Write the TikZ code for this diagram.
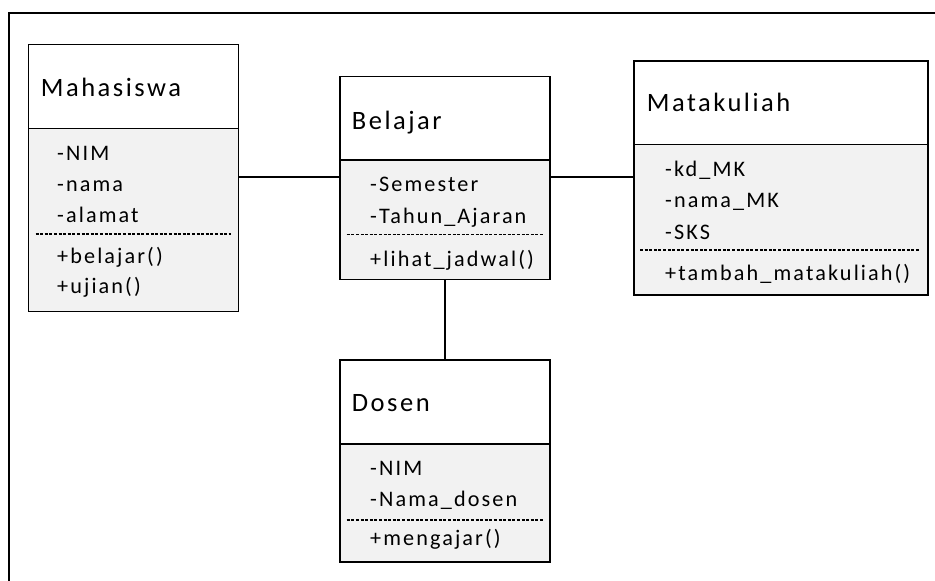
\documentclass[tikz,border=0pt]{standalone}
\usepackage{fontspec}
\setmainfont{Carlito}[LetterSpace=9.5]
\definecolor{bodyfill}{RGB}{242,242,242}
\tikzset{
  hdr/.style={draw=black, line width=1.3pt, fill=white, inner sep=0pt, anchor=north west},
  bdy/.style={draw=black, line width=1.3pt, fill=bodyfill, inner sep=0pt, anchor=north west},
  ttl/.style={anchor=base west, inner sep=0pt, font=\fontsize{26.5}{30}\selectfont},
  attr/.style={anchor=base west, inner sep=0pt, font=\fontsize{22.2}{26}\selectfont},
  sep/.style={line width=1.1pt, dash pattern=on 3pt off 1.6pt},
  link/.style={line width=1.3pt}
}
\begin{document}
\begin{tikzpicture}[x=1pt,y=-1pt]
\useasboundingbox (0,0) rectangle (935,581);
\draw[line width=1.3pt] (9,600) -- (9,13) -- (950,13);

% Mahasiswa
\node[hdr, minimum width=210pt, minimum height=84pt] (mhsH) at (28,43.7) {};
\node[bdy, minimum width=210pt, minimum height=183.3pt] (mhsB) at (28,127.7) {};
\node[ttl] (mhsT) at (40.7,96.7) {Mahasiswa};
\node[attr] (mhs1) at (57,160) {-NIM};
\node[attr] (mhs2) at (57,191.5) {-nama};
\node[attr] (mhs3) at (57,222.5) {-alamat};
\node[attr] (mhs4) at (57,263) {+belajar()};
\node[attr] (mhs5) at (57,293) {+ujian()};
\coordinate (mhsDl) at (35.5,234);
\coordinate (mhsDr) at (231,234);
\draw[sep] (mhsDl) -- (mhsDr);

% Belajar
\node[hdr, minimum width=210pt, minimum height=83.6pt] (blH) at (339.3,75.7) {};
\node[bdy, minimum width=210pt, minimum height=119.4pt] (blB) at (339.3,159.3) {};
\node[ttl] (blT) at (351.7,129) {Belajar};
\node[attr] (bl1) at (370,191.7) {-Semester};
\node[attr] (bl2) at (370,223.3) {-Tahun\_Ajaran};
\node[attr] (bl3) at (370,266) {+lihat\_jadwal()};
\coordinate (blDl) at (346.7,234.7);
\coordinate (blDr) at (542.7,234.7);
\draw[sep] (blDl) -- (blDr);

% Matakuliah
\node[hdr, minimum width=294pt, minimum height=83.7pt] (mkH) at (633.3,60.3) {};
\node[bdy, minimum width=294pt, minimum height=150.3pt] (mkB) at (633.3,144) {};
\node[ttl] (mkT) at (646.7,111.7) {Matakuliah};
\node[attr] (mk1) at (665,176.7) {-kd\_MK};
\node[attr] (mk2) at (665,207.5) {-nama\_MK};
\node[attr] (mk3) at (665,239) {-SKS};
\node[attr] (mk4) at (665,280) {+tambah\_matakuliah()};
\coordinate (mkDl) at (640,250);
\coordinate (mkDr) at (920,250);
\draw[sep] (mkDl) -- (mkDr);

% Dosen
\node[hdr, minimum width=210pt, minimum height=84pt] (dsH) at (339.3,359.3) {};
\node[bdy, minimum width=210pt, minimum height=118pt] (dsB) at (339.3,443.3) {};
\node[ttl] (dsT) at (351.7,411.7) {Dosen};
\node[attr] (ds1) at (370,475) {-NIM};
\node[attr] (ds2) at (370,506.7) {-Nama\_dosen};
\node[attr] (ds3) at (370,545) {+mengajar()};
\coordinate (dsDl) at (346.7,520);
\coordinate (dsDr) at (542.7,520);
\draw[sep] (dsDl) -- (dsDr);

% connectors
\coordinate (lvl) at (0,177);
\draw[link] (mhsB.east |- lvl) -- (blB.west |- lvl);
\draw[link] (blB.east |- lvl) -- (mkB.west |- lvl);
\draw[link] (blB.south) -- (dsH.north);
\end{tikzpicture}
\end{document}
